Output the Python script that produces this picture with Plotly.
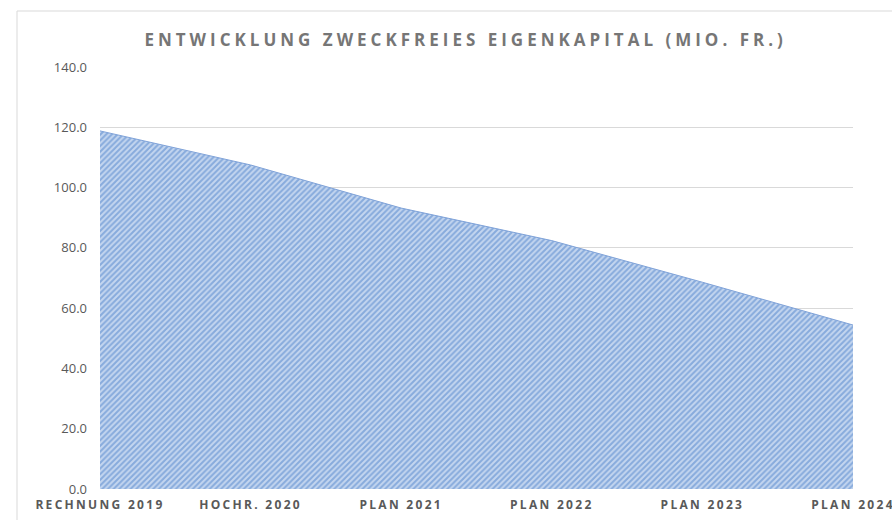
import plotly.graph_objects as go

categories = ["RECHNUNG 2019", "HOCHR. 2020", "PLAN 2021", "PLAN 2022", "PLAN 2023", "PLAN 2024"]
values = [118.8, 107.5, 93.2, 82.4, 68.6, 54.4]
y_ticks = [0, 20, 40, 60, 80, 100, 120, 140]

fig = go.Figure()
fig.add_trace(go.Scatter(
    x=categories, y=values, mode="lines", fill="tozeroy",
    line=dict(color="#7fa2d8", width=1),
    fillcolor="#a9c2e6",
    fillpattern=dict(shape="/", fgcolor="#4a7fca", bgcolor="#c4d6ef", size=4, solidity=0.5),
    hoverinfo="x+y", showlegend=False,
))

fig.update_layout(
    width=892, height=520,
    margin=dict(l=100, r=39, t=67, b=31),
    paper_bgcolor="white", plot_bgcolor="white",
    title=dict(text="ENTWICKLUNG ZWECKFREIES EIGENKAPITAL (MIO. FR.)",
               x=0.522, xref="container", xanchor="center",
               y=1 - 40 / 520, yref="container", yanchor="middle",
               font=dict(family="Open Sans", size=17, color="#767676", weight=700)),
    xaxis=dict(type="category", range=[0, len(categories) - 1], showgrid=False,
               showline=False, zeroline=False, ticks="", automargin=False,
               tickfont=dict(family="Open Sans", size=12, color="#595959", weight="bold"),
               ticklabelstandoff=7),
    yaxis=dict(range=[0, 140], tickvals=y_ticks, tickformat=".1f", showgrid=True,
               gridcolor="#d9d9d9", gridwidth=1, zeroline=False, showline=False, ticks="",
               automargin=False,
               tickfont=dict(family="Open Sans", size=13, color="#595959"),
               ticklabelstandoff=12),
    shapes=[dict(type="rect", xref="paper", yref="paper",
                 x0=(17 - 100) / 753, x1=1.3, y0=-0.3, y1=(489 - 11) / 422,
                 line=dict(color="#d9d9d9", width=1), fillcolor="rgba(0,0,0,0)", layer="below")],
)

post = """
document.body.style.margin='0';
var s=document.createElement('style');
s.innerHTML='body{margin:0} .xtick text{letter-spacing:2.3px} .gtitle{letter-spacing:4px}';
document.head.appendChild(s);
"""
fig.write_html("out.html", post_script=post, config={"displayModeBar": False})
